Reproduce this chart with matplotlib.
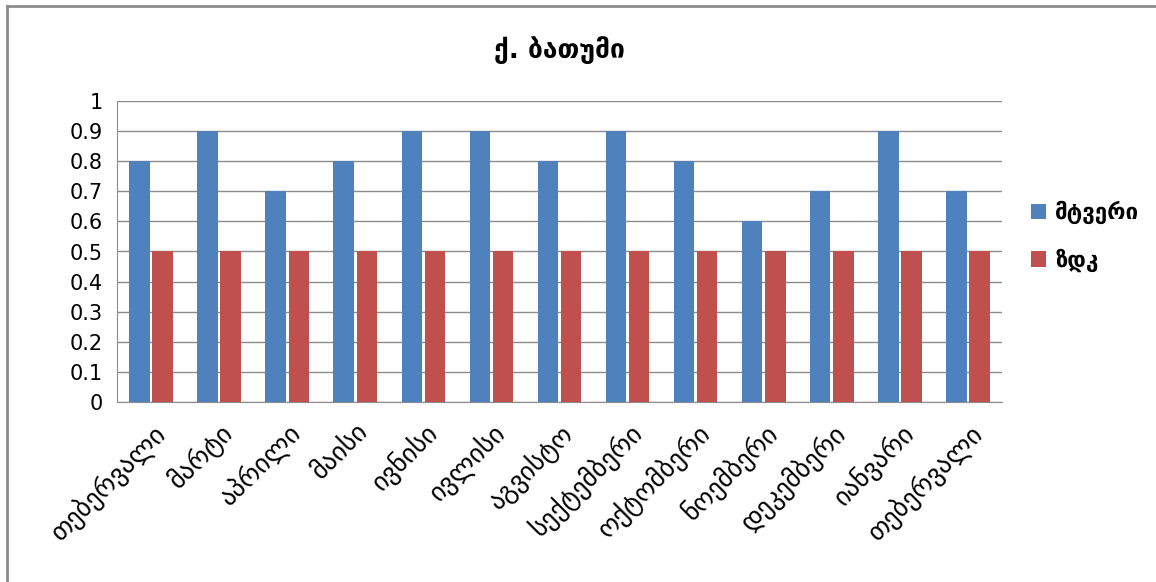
import numpy as np
import matplotlib.pyplot as plt
from matplotlib.lines import Line2D

months = ["თებერვალი", "მარტი", "აპრილი", "მაისი", "ივნისი", "ივლისი", "აგვისტო",
          "სექტემბერი", "ოქტომბერი", "ნოემბერი", "დეკემბერი", "იანვარი", "თებერვალი"]
dust = [0.8, 0.9, 0.7, 0.8, 0.9, 0.9, 0.8, 0.9, 0.8, 0.6, 0.7, 0.9, 0.7]
limit = [0.5] * 13
series_names = ["მტვერი", "ზდკ"]
title = "ქ. ბათუმი"

plt.rcParams["font.family"] = ["DejaVu Sans"]

fig = plt.figure(figsize=(11.56, 5.82), dpi=100)
ax = fig.add_axes([117 / 1156, 1 - 402 / 582, (1002 - 117) / 1156, (402 - 101) / 582])

x = np.arange(len(months))
w = 0.3
ax.bar(x - w / 2 - 0.02, dust, w, color="#4F81BD", label=series_names[0], zorder=3)
ax.bar(x + w / 2 + 0.02, limit, w, color="#C0504D", label=series_names[1], zorder=3)

ax.set_xlim(-0.5, len(months) - 0.5)
ax.set_ylim(0, 1)
ax.set_yticks(np.arange(0, 1.01, 0.1))
ax.set_yticklabels(["0", "0.1", "0.2", "0.3", "0.4", "0.5", "0.6", "0.7", "0.8", "0.9", "1"])
ax.yaxis.grid(True, color="#8C8C8C", linewidth=1, zorder=0)
ax.set_xticks(x)
ax.set_xticklabels(months, rotation=45, ha="right", rotation_mode="anchor", fontsize=19)
ax.tick_params(axis="y", labelsize=15)
ax.tick_params(axis="both", length=0)
ax.tick_params(axis="x", pad=12)
ax.tick_params(axis="y", pad=10)
for s in ["top", "right"]:
    ax.spines[s].set_visible(False)
ax.spines["left"].set_color("#8C8C8C")
ax.spines["bottom"].set_color("#8C8C8C")

fig.text(0.5 * (117 + 1002) / 1156, 1 - 50 / 582, title, ha="center", va="center",
         fontsize=19, fontweight="bold")

ax.legend(loc="center left", bbox_to_anchor=(1.01, 0.55), frameon=False,
          prop={"size": 16, "weight": "bold"}, handlelength=0.7, handleheight=0.7,
          labelspacing=1.1, handletextpad=0.4)

# outer chart frame: only top and left edges are visible in the crop
fig.lines.append(Line2D([7 / 1156, 7 / 1156], [0, 1 - 6 / 582], transform=fig.transFigure,
                        color="#8C8C8C", linewidth=2))
fig.lines.append(Line2D([7 / 1156, 1], [1 - 6 / 582, 1 - 6 / 582], transform=fig.transFigure,
                        color="#8C8C8C", linewidth=2))

fig.savefig("out.png", dpi=100, facecolor="w")
